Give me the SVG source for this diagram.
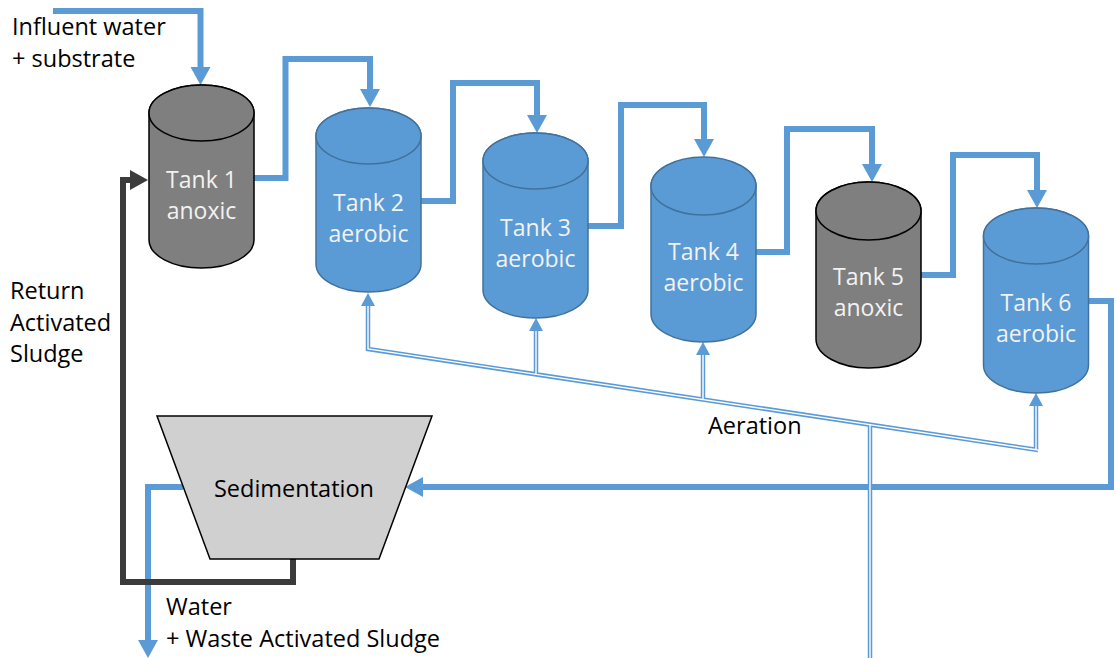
<svg xmlns="http://www.w3.org/2000/svg" width="1116" height="658" viewBox="0 0 1116 658">
<style>
.flow{fill:none;stroke:#5b9bd5;stroke-width:6;marker-end:url(#ab)}
.ret{fill:none;stroke:#3b3b3b;stroke-width:6;marker-end:url(#ad)}
.air{fill:none;stroke:#5b9bd5;stroke-width:4.5}
.airw{fill:none;stroke:#fff;stroke-width:1.4}
.ah{fill:#5b9bd5}
.blue{fill:#5b9bd5;stroke:#41719c;stroke-width:1.5}
.gray{fill:#7f7f7f;stroke:#000;stroke-width:1.5}
.tt{font-family:"Open Sans","Noto Sans",sans-serif;font-size:23px;fill:#f2f2f2;text-anchor:middle}
.lb{font-family:"Open Sans","Noto Sans",sans-serif;font-size:23.5px;fill:#000}
</style>
<defs>
<marker id="ab" markerUnits="userSpaceOnUse" viewBox="0 0 18 20" markerWidth="18" markerHeight="20" refX="8" refY="10" orient="auto"><path d="M0,0 L18,10 L0,20 Z" fill="#5b9bd5"/></marker>
<marker id="ad" markerUnits="userSpaceOnUse" viewBox="0 0 18 20" markerWidth="18" markerHeight="20" refX="8" refY="10" orient="auto"><path d="M0,0 L18,10 L0,20 Z" fill="#3b3b3b"/></marker>
</defs>

<g id="connectors">
<path class="flow" d="M53,11 H200.5 V75"/>
<path class="flow" d="M254,178 H285.5 V59 H370 V97"/>
<path class="flow" d="M421,201 H453 V83 H537 V123"/>
<path class="flow" d="M588,226 H621 V105 H704 V147"/>
<path class="flow" d="M756,252 H787 V129 H872 V172"/>
<path class="flow" d="M921,275 H953 V155 H1037 V198"/>
<path class="flow" d="M1089,301 H1111 V487 H415"/>
<path class="flow" d="M183,487 H148 V648"/>
<path class="ret" d="M293,559 V582 H123 V180 H138"/>
<g id="aeration">
<path class="air" d="M368,305 V349 L1038,450 M536,374.4 V330 M703,399.5 V354 M1036,449.7 V405 M870,424.7 V658"/>
<path class="airw" d="M368,305 V349 L1038,450 M536,374.4 V330 M703,399.5 V354 M1036,449.7 V405 M870,424.7 V658"/>
<polygon class="ah" points="368,293 361,306 375,306"/>
<polygon class="ah" points="536,318 529,331 543,331"/>
<polygon class="ah" points="703,342 696,355 710,355"/>
<polygon class="ah" points="1036,393 1029,406 1043,406"/>
</g>
</g>

<g id="tank1">
<path class="gray" d="M149,113 V240 A52.5,28 0 0 0 254,240 V113 A52.5,28 0 0 0 149,113 Z"/>
<ellipse class="gray" cx="201.5" cy="113" rx="52.5" ry="28"/>
<text class="tt" x="201.5" y="188">Tank 1</text>
<text class="tt" x="201.5" y="219">anoxic</text>
</g>
<g id="tank2">
<path class="blue" d="M316,136 V264 A52.5,28 0 0 0 421,264 V136 A52.5,28 0 0 0 316,136 Z"/>
<ellipse class="blue" cx="368.5" cy="136" rx="52.5" ry="28"/>
<text class="tt" x="368.5" y="211">Tank 2</text>
<text class="tt" x="368.5" y="242">aerobic</text>
</g>
<g id="tank3">
<path class="blue" d="M483,161 V290 A52.5,28 0 0 0 588,290 V161 A52.5,28 0 0 0 483,161 Z"/>
<ellipse class="blue" cx="535.5" cy="161" rx="52.5" ry="28"/>
<text class="tt" x="535.5" y="236">Tank 3</text>
<text class="tt" x="535.5" y="267">aerobic</text>
</g>
<g id="tank4">
<path class="blue" d="M651,186 V314 A52.5,28 0 0 0 756,314 V186 A52.5,28 0 0 0 651,186 Z"/>
<ellipse class="blue" cx="703.5" cy="186" rx="52.5" ry="29"/>
<text class="tt" x="703.5" y="260">Tank 4</text>
<text class="tt" x="703.5" y="291">aerobic</text>
</g>
<g id="tank5">
<path class="gray" d="M816,211 V339 A52.5,29 0 0 0 921,339 V211 A52.5,29 0 0 0 816,211 Z"/>
<ellipse class="gray" cx="868.5" cy="211" rx="52.5" ry="29"/>
<text class="tt" x="868.5" y="285">Tank 5</text>
<text class="tt" x="868.5" y="316">anoxic</text>
</g>
<g id="tank6">
<path class="blue" d="M983.5,236 V365 A52.5,28 0 0 0 1088.5,365 V236 A52.5,28 0 0 0 983.5,236 Z"/>
<ellipse class="blue" cx="1036" cy="236" rx="52.5" ry="28"/>
<text class="tt" x="1036" y="311">Tank 6</text>
<text class="tt" x="1036" y="342">aerobic</text>
</g>
<g id="sedimentation">
<polygon points="157,416 432,416 379,559 210,559" fill="#d0d0d0" stroke="#000" stroke-width="1.5"/>
<text class="lb" x="294" y="497" text-anchor="middle">Sedimentation</text>
</g>
<g id="labels">
<text class="lb" x="12" y="35">Influent water</text>
<text class="lb" x="12" y="67">+ substrate</text>
<text class="lb" x="10" y="299">Return</text>
<text class="lb" x="10" y="331">Activated</text>
<text class="lb" x="10" y="362">Sludge</text>
<text class="lb" x="708" y="434">Aeration</text>
<text class="lb" x="166" y="615">Water</text>
<text class="lb" x="166" y="647">+ Waste Activated Sludge</text>
</g>
</svg>
